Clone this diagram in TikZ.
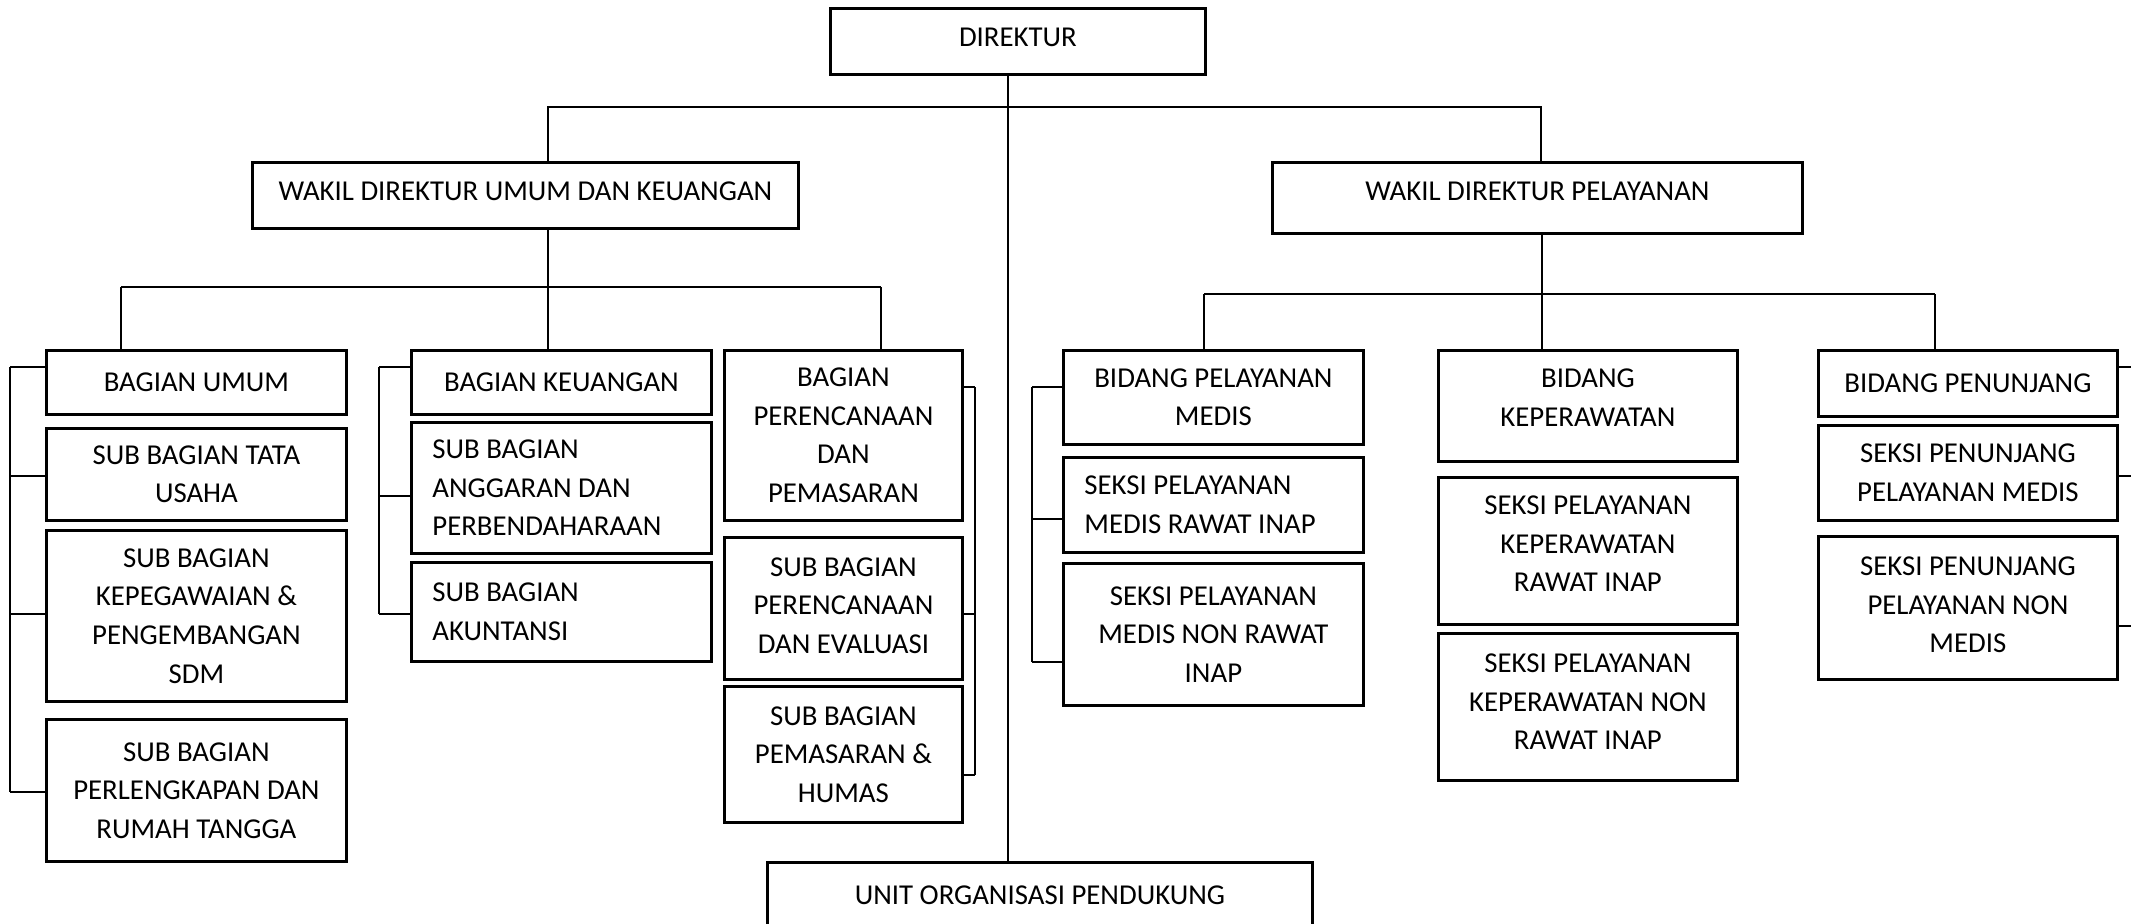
\documentclass[tikz,border=0pt]{standalone}
\usepackage{fontspec}
\setmainfont{Carlito}
\usetikzlibrary{calc}

\tikzset{
  box/.style={draw, line width=1.4pt, inner sep=0pt, align=center, anchor=north west,
    font=\fontsize{14.4}{19.3}\selectfont},
  sz/.style 2 args={minimum width=#1*0.5pt, minimum height=#2*0.5pt},
  lbox/.style={align=flush left, text width=#1},
  link/.style={line width=0.7pt},
}

\begin{document}
\begin{tikzpicture}[x=0.5pt, y=-0.5pt]
\useasboundingbox (0,0) rectangle (2131,923);
\clip (0,0) rectangle (2131,923);

% Top level
\node[box, sz={375}{66}, text depth=4pt] (dir) at (829,7) {DIREKTUR};
\node[box, sz={546}{66}, text depth=4pt] (wdu) at (251,161) {WAKIL DIREKTUR UMUM DAN KEUANGAN};
\node[box, sz={530}{71}, text depth=7pt] (wdp) at (1271,161) {WAKIL DIREKTUR PELAYANAN};
\node[box, sz={545}{66}] (uop) at (766,861) {UNIT ORGANISASI PENDUKUNG};

% Bagian umum
\node[box, sz={300}{64}] (bu) at (45,349) {BAGIAN UMUM};
\node[box, sz={300}{92}] (sbtu) at (45,427) {SUB BAGIAN TATA\\USAHA};
\node[box, sz={300}{171}] (sbkp) at (45,529) {SUB BAGIAN\\KEPEGAWAIAN \&\\PENGEMBANGAN\\SDM};
\node[box, sz={300}{142}] (sbpr) at (45,718) {SUB BAGIAN\\PERLENGKAPAN DAN\\RUMAH TANGGA};

% Bagian keuangan
\node[box, sz={300}{64}] (bk) at (410,349) {BAGIAN KEUANGAN};
\node[box, sz={300}{131}, lbox=129pt] (sbag) at (410,421) {SUB BAGIAN\\ANGGARAN DAN\\PERBENDAHARAAN};
\node[box, sz={300}{99}, lbox=129pt] (sbak) at (410,561) {SUB BAGIAN\\AKUNTANSI};

% Bagian perencanaan
\node[box, sz={238}{170}] (bpp) at (723,349) {BAGIAN\\PERENCANAAN\\DAN\\PEMASARAN};
\node[box, sz={238}{142}, text depth=3pt] (sbpe) at (723,536) {SUB BAGIAN\\PERENCANAAN\\DAN EVALUASI};
\node[box, sz={238}{136}] (sbph) at (723,685) {SUB BAGIAN\\PEMASARAN \&\\HUMAS};

% Bidang pelayanan medis
\node[box, sz={300}{94}] (bpm) at (1062,349) {BIDANG PELAYANAN\\MEDIS};
\node[box, sz={300}{95}, lbox=129pt] (spri) at (1062,456) {SEKSI PELAYANAN\\MEDIS RAWAT INAP};
\node[box, sz={300}{142}] (spnri) at (1062,562) {SEKSI PELAYANAN\\MEDIS NON RAWAT\\INAP};

% Bidang keperawatan
\node[box, sz={299}{111}, text depth=8pt] (bkep) at (1437,349) {BIDANG\\KEPERAWATAN};
\node[box, sz={299}{147}, text depth=7pt] (skri) at (1437,476) {SEKSI PELAYANAN\\KEPERAWATAN\\RAWAT INAP};
\node[box, sz={299}{147}, text depth=5pt] (sknri) at (1437,632) {SEKSI PELAYANAN\\KEPERAWATAN NON\\RAWAT INAP};

% Bidang penunjang
\node[box, sz={299}{66}] (bpj) at (1817,349) {BIDANG PENUNJANG};
\node[box, sz={299}{95}] (spm) at (1817,424) {SEKSI PENUNJANG\\PELAYANAN MEDIS};
\node[box, sz={299}{143}, text depth=3pt] (spnm) at (1817,535) {SEKSI PENUNJANG\\PELAYANAN NON\\MEDIS};

% Trunk and top bus
\coordinate (trunk) at (1008,107);
\coordinate (busL) at (548,107);
\coordinate (busR) at (1541,107);
\draw[link] (dir.south -| trunk) -- (uop.north -| trunk);
\draw[link] (wdu.north -| busL) -- (busL) -- (busR) -- (wdp.north -| busR);

% Bus under wakil umum
\coordinate (u1) at (121,287);
\coordinate (u2) at (548,287);
\coordinate (u3) at (881,287);
\draw[link] (u1) -- (u3);
\draw[link] (wdu.south -| u2) -- (u2) -- (bk.north -| u2);
\draw[link] (u1) -- (bu.north -| u1);
\draw[link] (u3) -- (bpp.north -| u3);

% Bus under wakil pelayanan
\coordinate (p1) at (1204,294);
\coordinate (p2) at (1542,294);
\coordinate (p3) at (1935,294);
\draw[link] (p1) -- (p3);
\draw[link] (wdp.south -| p2) -- (p2) -- (bkep.north -| p2);
\draw[link] (p1) -- (bpm.north -| p1);
\draw[link] (p3) -- (bpj.north -| p3);

% Side brackets
\draw[link] (10,367) -- (10,792);
\foreach \nm/\y in {bu/367, sbtu/476, sbkp/614, sbpr/792}
  \draw[link] (10,\y) -- (\nm.west |- 0,\y);
\draw[link] (379,367) -- (379,614);
\foreach \nm/\y in {bk/367, sbag/496, sbak/614}
  \draw[link] (379,\y) -- (\nm.west |- 0,\y);
\draw[link] (975,387) -- (975,775);
\foreach \nm/\y in {bpp/387, sbpe/614, sbph/775}
  \draw[link] (975,\y) -- (\nm.east |- 0,\y);
\draw[link] (1032,387) -- (1032,662);
\foreach \nm/\y in {bpm/387, spri/519, spnri/662}
  \draw[link] (1032,\y) -- (\nm.west |- 0,\y);
\foreach \nm/\y in {bpj/367, spm/476, spnm/626}
  \draw[link] (\nm.east |- 0,\y) -- (2140,\y);
\end{tikzpicture}
\end{document}
